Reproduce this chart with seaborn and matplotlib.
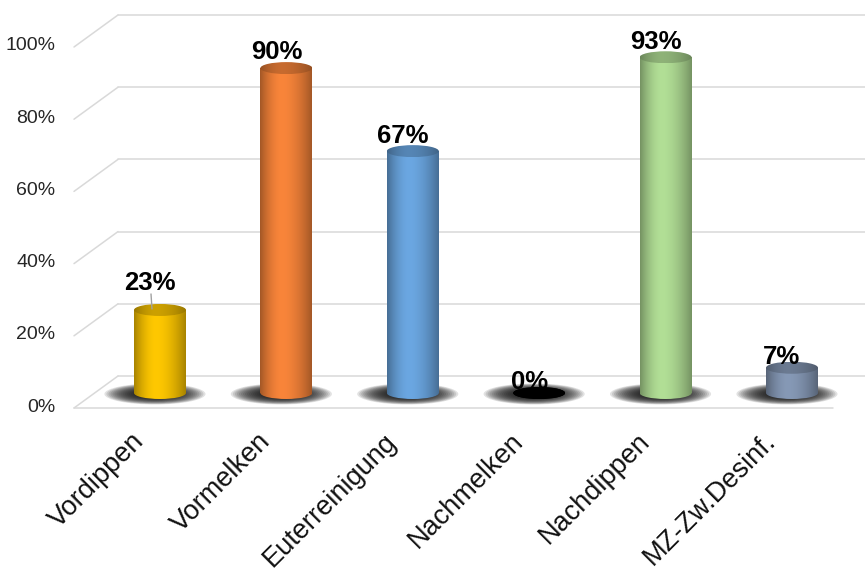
import numpy as np
import pandas as pd
import matplotlib
matplotlib.use('Agg')
import matplotlib.pyplot as plt
import matplotlib.colors as mcolors
from matplotlib.patches import Ellipse
from matplotlib.transforms import ScaledTranslation
import seaborn as sns

categories = ['Vordippen', 'Vormelken', 'Euterreinigung', 'Nachmelken', 'Nachdippen', 'MZ-Zw.Desinf.']
values = [0.23, 0.90, 0.67, 0.0, 0.93, 0.07]
colors = ['#ffc800', '#f9853a', '#6ba7e2', '#000000', '#b2df96', '#8699b6']
ytick_values = [0, 0.2, 0.4, 0.6, 0.8, 1.0]
ytick_labels = ['0%', '20%', '40%', '60%', '80%', '100%']

sns.set_theme(style='white')
plt.rcParams['font.family'] = ['Liberation Sans', 'DejaVu Sans']

# pixel scale of the data units (figure is 865x568 px at dpi 100)
PX_X = 126.4
PX_Y = 361.0


def shade_strip(color, dark=0.66, n=80):
    rgb = np.array(mcolors.to_rgb(color))
    t = np.linspace(0, 1, n)
    d = np.where(t < 0.42, (0.42 - t) / 0.42, (t - 0.42) / 0.58)
    s = 1 - (1 - dark) * d ** 1.8
    return np.clip(rgb[None, :] * s[:, None], 0, 1)[None, :, :]


fig = plt.figure(figsize=(8.65, 5.68), dpi=100)
fig.patch.set_facecolor('white')
ax = fig.add_axes([65 / 865, 143 / 568, 800 / 865, 425 / 568])

df = pd.DataFrame({'cat': categories, 'val': values})
bar_w = 52 / PX_X
sns.barplot(data=df, x='cat', y='val', hue='cat', palette=colors, width=bar_w,
            legend=False, ax=ax, zorder=3)

# pseudo 3d walls: back grid, side diagonals, floor
x_front, x_back = (74 - 160) / PX_X, (118 - 160) / PX_X
x_right = (865 - 160) / PX_X
front_off, back_off = -15 / PX_Y, 17 / PX_Y
grid_c = '#d9d9d9'
for v in ytick_values:
    ax.plot([x_back, x_right], [v + back_off] * 2, color=grid_c, lw=1.1, zorder=1)
    ax.plot([x_front, x_back], [v + front_off, v + back_off], color=grid_c, lw=1.1, zorder=1)
ax.plot([x_front, (833 - 160) / PX_X], [front_off] * 2, color=grid_c, lw=1.1, zorder=1)

ell_h = 12 / PX_Y
label_off = [27, 16, 15, 11, 15, 11]
for i, p in enumerate(ax.patches):
    x0, w, h = p.get_x(), p.get_width(), p.get_height()
    cx = x0 + w / 2
    col = colors[i]
    p.set_facecolor('none')
    p.set_linewidth(0)

    # soft shadow on the floor
    for k in range(18):
        f = 1 - k * 0.04
        sh = Ellipse((cx - 0.04, -1 / PX_Y), 0.80 * f, 21 / PX_Y * f,
                     facecolor='#111111', edgecolor='none', alpha=0.12, zorder=2)
        ax.add_patch(sh)

    strip = shade_strip(col)
    if h > 0:
        im = ax.imshow(strip, extent=[x0, x0 + w, 0, h], aspect='auto',
                       interpolation='bilinear', zorder=4)
        im.set_clip_path(p)
    bottom = Ellipse((cx, 0), w, ell_h, facecolor='none', edgecolor='none')
    ax.add_patch(bottom)
    im = ax.imshow(strip, extent=[x0, x0 + w, -ell_h / 2, ell_h / 2], aspect='auto',
                   interpolation='bilinear', zorder=4)
    im.set_clip_path(bottom)

    top = Ellipse((cx, h), w, ell_h, facecolor='none', edgecolor='none')
    ax.add_patch(top)
    im = ax.imshow(shade_strip(col, dark=0.75) * 0.8, extent=[x0, x0 + w, h - ell_h / 2, h + ell_h / 2],
                   aspect='auto', interpolation='bilinear', zorder=5)
    im.set_clip_path(top)

    ly = h + label_off[i] / PX_Y
    lx = cx - 10 / PX_X
    ax.text(lx, ly, f'{values[i]:.0%}', ha='center', va='center', fontsize=18.5,
            fontweight='bold', color='black', zorder=6)
    if label_off[i] > 20:
        ax.plot([lx + 1 / PX_X, lx + 2 / PX_X], [ly - 11 / PX_Y, h + 1 / PX_Y],
                color='#a0a0a0', lw=1, zorder=6)

ax.set_xlim((65 - 160) / PX_X, (865 - 160) / PX_X)
ax.set_ylim(-32 / PX_Y, 393 / PX_Y)

ax.set_yticks([v - 12 / PX_Y for v in ytick_values])
ax.set_yticklabels(ytick_labels, fontsize=14, color='#262626')
ax.set_xticks(range(len(categories)))
ax.set_xticklabels(categories, rotation=45, ha='right', va='center',
                   rotation_mode='anchor', fontsize=19.5, color='#111111')
ax.tick_params(axis='y', length=0, pad=7)
ax.tick_params(axis='x', length=0, pad=9)
for lbl in ax.get_xticklabels():
    lbl.set_transform(lbl.get_transform() + ScaledTranslation(-0.2, 0, fig.dpi_scale_trans))

ax.set_xlabel('')
ax.set_ylabel('')
for s in ax.spines.values():
    s.set_visible(False)
ax.set_facecolor('white')
ax.grid(False)

fig.savefig('out.png', dpi=100)
